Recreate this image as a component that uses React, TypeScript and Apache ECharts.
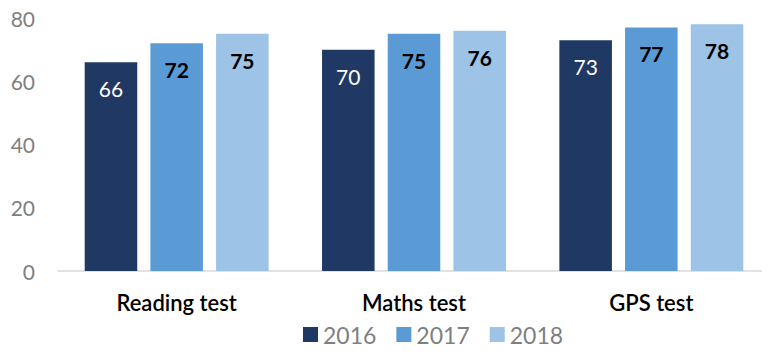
import React, { useEffect, useRef } from "react";
import * as echarts from "echarts";

const categories = ["Reading test", "Maths test", "GPS test"];
const years = ["2016", "2017", "2018"];
const values2016 = [66, 70, 73];
const values2017 = [72, 75, 77];
const values2018 = [75, 76, 78];
const yTicks = [0, 20, 40, 60, 80];

const FONT = "Lato";

export default function App() {
  const ref = useRef<HTMLDivElement>(null);
  useEffect(() => {
    if (!ref.current) return;
    const chart = echarts.init(ref.current, null, { renderer: "svg" });
    const colors = ["#203864", "#5B9BD5", "#9DC3E6"];
    const data = [values2016, values2017, values2018];
    chart.setOption({
      animation: false,
      textStyle: { fontFamily: FONT },
      legend: {
        data: years,
        left: 298,
        top: 318,
        itemWidth: 15,
        itemHeight: 15,
        itemGap: 20,
        icon: "rect",
        textStyle: { color: "#7F7F7F", fontSize: 23, fontFamily: FONT },
      },
      grid: { left: 58, top: 18, width: 716, height: 253, containLabel: false },
      xAxis: {
        type: "category",
        data: categories,
        axisLine: { lineStyle: { color: "#D9D9D9", width: 1.5 } },
        axisTick: { show: false },
        axisLabel: { color: "#000", fontSize: 22, fontWeight: 600, margin: 20, fontFamily: FONT },
      },
      yAxis: {
        type: "value",
        min: 0,
        max: yTicks[yTicks.length - 1],
        interval: 20,
        axisLine: { show: false },
        axisTick: { show: false },
        splitLine: { show: false },
        axisLabel: { color: "#7F7F7F", fontSize: 21, margin: 23, fontFamily: FONT },
      },
      series: years.map((y, i) => ({
        name: y,
        type: "bar",
        data: data[i],
        barGap: "25%",
        barCategoryGap: "22.5%",
        itemStyle: { color: colors[i] },
        label: {
          show: true,
          position: "insideTop",
          distance: 16,
          fontSize: 21,
          fontFamily: FONT,
          color: i === 0 ? "#fff" : "#000",
          fontWeight: i === 0 ? "normal" : "bold",
        },
      })),
    });
    return () => chart.dispose();
  }, []);
  return <div ref={ref} style={{ width: 770, height: 361, margin: -8 }} />;
}
